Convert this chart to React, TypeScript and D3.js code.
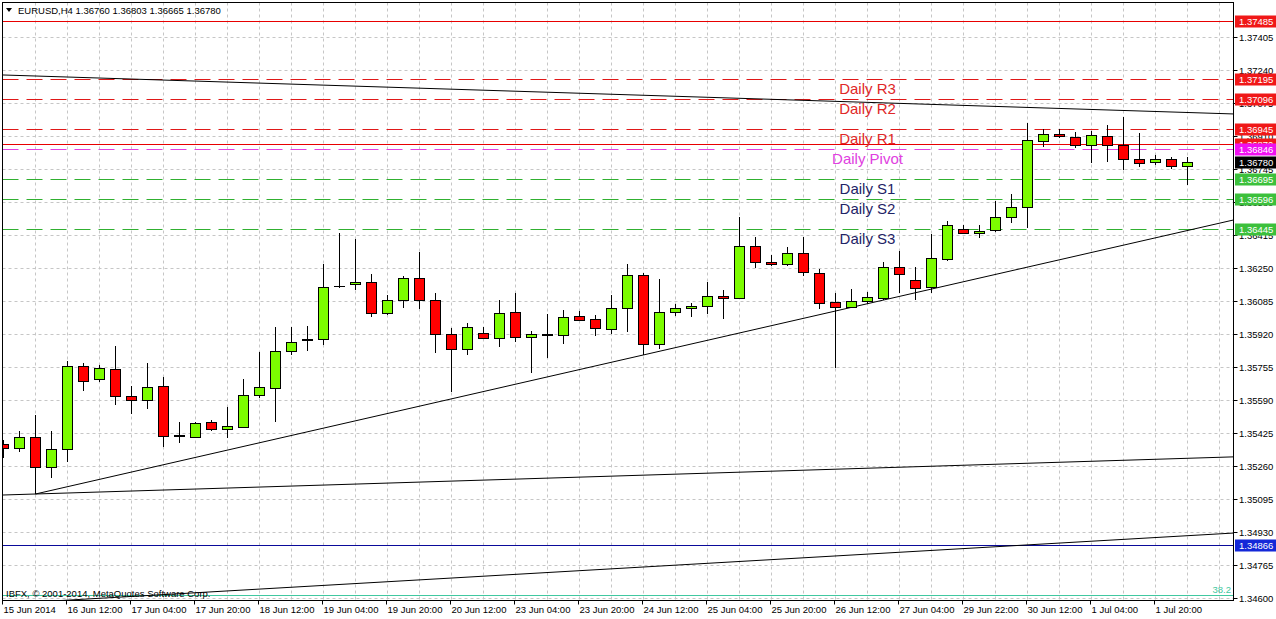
import React from "react";
import * as d3 from "d3";

const W = 1276;
const H = 619;

// H4 candles, bar 0 = 15 Jun 2014 (first bar on screen)
const opens = [
  1.3537, 1.3535, 1.35405, 1.35255, 1.35345, 1.3576, 1.35695, 1.35745, 1.3561, 1.3559,
  1.3566, 1.35415, 1.35405, 1.3548, 1.35445, 1.35455, 1.35615, 1.3565, 1.35835, 1.3589,
  1.35895, 1.3616, 1.3617, 1.3618, 1.36025, 1.3609, 1.362, 1.3609, 1.3592, 1.35845,
  1.35925, 1.359, 1.3603, 1.35905, 1.35915, 1.35915, 1.3601, 1.35995, 1.35945, 1.3605,
  1.36215, 1.3587, 1.3603, 1.3605, 1.3606, 1.3611, 1.361, 1.3636, 1.3628, 1.3627,
  1.36325, 1.36225, 1.3608, 1.36055, 1.36085, 1.361, 1.36255, 1.3619, 1.36155, 1.36295,
  1.36445, 1.36425, 1.3644, 1.36505, 1.36555, 1.36885, 1.3692, 1.36905, 1.36865, 1.3691,
  1.36865, 1.36795, 1.3678, 1.36795, 1.3676,
];
const highs = [
  1.3539, 1.35435, 1.35515, 1.35435, 1.35785, 1.35775, 1.35765, 1.3586, 1.3566, 1.35775,
  1.35705, 1.3548, 1.3548, 1.3549, 1.35555, 1.35695, 1.3583, 1.35955, 1.35955, 1.3596,
  1.3627, 1.36425, 1.36395, 1.3622, 1.36115, 1.3621, 1.3633, 1.36125, 1.3595, 1.35975,
  1.35955, 1.3609, 1.36125, 1.35935, 1.3602, 1.3604, 1.36035, 1.36015, 1.36115, 1.3627,
  1.36225, 1.36195, 1.3607, 1.36075, 1.3618, 1.3614, 1.36505, 1.36405, 1.36315, 1.36355,
  1.36405, 1.36245, 1.36125, 1.36145, 1.3613, 1.3628, 1.36335, 1.36255, 1.3642, 1.36485,
  1.36465, 1.36465, 1.36585, 1.3662, 1.36975, 1.36945, 1.36945, 1.3693, 1.36935, 1.36965,
  1.37005, 1.36925, 1.36815, 1.36805, 1.36803,
];
const lows = [
  1.353, 1.3533, 1.3512, 1.352, 1.3528, 1.35635, 1.3568, 1.35565, 1.3552, 1.35545,
  1.35355, 1.35375, 1.354, 1.35435, 1.354, 1.3545, 1.356, 1.3548, 1.35815, 1.35835,
  1.35865, 1.3615, 1.3614, 1.36005, 1.36015, 1.3605, 1.36045, 1.35825, 1.3563, 1.35815,
  1.35895, 1.35855, 1.3588, 1.35725, 1.358, 1.3587, 1.3599, 1.3591, 1.3592, 1.3593,
  1.35815, 1.35845, 1.3601, 1.36005, 1.3602, 1.35995, 1.361, 1.3625, 1.3626, 1.3626,
  1.3621, 1.36045, 1.3575, 1.36055, 1.3607, 1.3609, 1.36125, 1.3609, 1.36125, 1.36285,
  1.3642, 1.364, 1.3643, 1.36475, 1.3645, 1.36855, 1.369, 1.3685, 1.36775, 1.3678,
  1.3674, 1.36755, 1.36765, 1.36745, 1.36665,
];
const closes = [
  1.3535, 1.35405, 1.35255, 1.35345, 1.3576, 1.35685, 1.3575, 1.3561, 1.3559, 1.35655,
  1.3541, 1.3541, 1.35475, 1.35445, 1.3546, 1.35615, 1.35655, 1.35835, 1.3588, 1.35895,
  1.36155, 1.36158, 1.3618, 1.36025, 1.3609, 1.362, 1.3609, 1.3592, 1.35845, 1.35955,
  1.359, 1.36025, 1.35905, 1.3592, 1.35917, 1.36005, 1.3599, 1.3595, 1.3605, 1.36215,
  1.3587, 1.3603, 1.3605, 1.3606, 1.3611, 1.361, 1.3636, 1.3628, 1.3627, 1.36325,
  1.3623, 1.36075, 1.36055, 1.36085, 1.36105, 1.36255, 1.3622, 1.3615, 1.363, 1.36465,
  1.36425, 1.36435, 1.36505, 1.36555, 1.3689, 1.3692, 1.3691, 1.36865, 1.36915, 1.36865,
  1.36795, 1.36775, 1.36795, 1.3676, 1.3678,
];

const timeLabels = [
  "15 Jun 2014", "16 Jun 12:00", "17 Jun 04:00", "17 Jun 20:00", "18 Jun 12:00",
  "19 Jun 04:00", "19 Jun 20:00", "20 Jun 12:00", "23 Jun 04:00", "23 Jun 20:00",
  "24 Jun 12:00", "25 Jun 04:00", "25 Jun 20:00", "26 Jun 12:00", "27 Jun 04:00",
  "29 Jun 22:00", "30 Jun 12:00", "1 Jul 04:00", "1 Jul 20:00",
];
const timeLabelBars = [0, 4, 8, 12, 16, 20, 24, 28, 32, 36, 40, 44, 48, 52, 56, 60, 64, 68, 72];

const priceTickLabels = [
  "1.34600", "1.34765", "1.34930", "1.35095", "1.35260", "1.35425", "1.35590", "1.35755",
  "1.35920", "1.36085", "1.36250", "1.36415", "1.36580", "1.36745", "1.36910", "1.37075",
  "1.37240", "1.37405",
];

// Daily pivot levels
const pivotNames = ["Daily R3", "Daily R2", "Daily R1", "Daily Pivot", "Daily S1", "Daily S2", "Daily S3"];
const pivotPrices = [1.37195, 1.37096, 1.36945, 1.36846, 1.36695, 1.36596, 1.36445];
const pivotKinds = ["r", "r", "r", "p", "s", "s", "s"];

// Other horizontal lines
const hLinePrices = [1.37485, 1.3687, 1.34866];
const hLineKinds = ["red", "red", "blue"];

// Fibonacci level near the bottom
const fibPrice = 1.34615;
const fibLabel = "38.2";

// Trend lines: [barIndex, price] anchor pairs
const trendLines: { a: [number, number]; b: [number, number]; fromStart: boolean }[] = [
  { a: [0, 1.37215], b: [74, 1.370275], fromStart: false },
  { a: [2, 1.3512], b: [74, 1.364375], fromStart: true },
  { a: [2, 1.3512], b: [74, 1.352985], fromStart: false },
  { a: [25, 1.34686], b: [74, 1.349115], fromStart: false },
];

const header = "EURUSD,H4  1.36760 1.36803 1.36665 1.36780";
const copyright = "IBFX, \u00A9 2001-2014, MetaQuotes Software Corp.";
const lastPrice = 1.3678;

const COL = {
  bull: "#7CFC00",
  bear: "#FF0000",
  grid: "#C6C6C6",
  rLine: "#E01818",
  pLine: "#E040E0",
  sLine: "#30B030",
  rText: "#E02828",
  pText: "#E040E0",
  sText: "#1E2466",
  red: "#E80000",
  blue: "#0A0A9A",
  fib: "#40C8A0",
};

const FONT = "'Liberation Sans', Arial, sans-serif";

export default function App() {
  const x = d3.scaleLinear().domain([0, 74]).range([3, 3 + 16 * 74]);
  const y = d3.scaleLinear().domain([1.346, 1.376]).range([598, -2]);

  const L = 2.5;
  const R = 1233.5;
  const T = 2.5;
  const B = 600.5;

  const gridX: number[] = [];
  for (let i = 2; x(i) < R - 2; i += 2) gridX.push(x(i) + 0.5);

  const boxes: { price: number; text: string; bg: string }[] = [
    { price: hLinePrices[0], text: "1.37485", bg: "#F01818" },
    { price: pivotPrices[0], text: "1.37195", bg: "#F01818" },
    { price: pivotPrices[1], text: "1.37096", bg: "#F01818" },
    { price: pivotPrices[2], text: "1.36945", bg: "#F01818" },
    { price: hLinePrices[1], text: "1.36870", bg: "#F01818" },
    { price: pivotPrices[3], text: "1.36846", bg: "#F010F0" },
    { price: pivotPrices[4], text: "1.36695", bg: "#3CC03C" },
    { price: pivotPrices[5], text: "1.36596", bg: "#3CC03C" },
    { price: pivotPrices[6], text: "1.36445", bg: "#3CC03C" },
    { price: hLinePrices[2], text: "1.34866", bg: "#1428D8" },
    { price: lastPrice, text: "1.36780", bg: "#000000" },
  ];

  const trendPath = (t: { a: [number, number]; b: [number, number]; fromStart: boolean }) => {
    const slope = (t.b[1] - t.a[1]) / (t.b[0] - t.a[0]);
    const i0 = t.fromStart ? t.a[0] : -2;
    const i1 = 80;
    const p0 = t.a[1] + slope * (i0 - t.a[0]);
    const p1 = t.a[1] + slope * (i1 - t.a[0]);
    return d3.line()([
      [x(i0) + 0.5, y(p0)],
      [x(i1) + 0.5, y(p1)],
    ]) as string;
  };

  const py = (p: number) => Math.round(y(p)) + 0.5;

  return (
    <svg
      width={W}
      height={H}
      style={{ position: "absolute", left: 0, top: 0, display: "block" }}
      fontFamily={FONT}
    >
      <defs>
        <clipPath id="plotClip">
          <rect x={L} y={T} width={R - L} height={B - T} />
        </clipPath>
      </defs>
      <rect x={0} y={0} width={W} height={H} fill="#ffffff" />

      <g clipPath="url(#plotClip)">
        {/* grid */}
        {gridX.map((gx, i) => (
          <line key={"gx" + i} x1={gx} x2={gx} y1={T} y2={B} stroke={COL.grid} strokeDasharray="3,3" />
        ))}
        {priceTickLabels.map((t, i) => (
          <line key={"gy" + i} x1={L} x2={R} y1={py(+t)} y2={py(+t)} stroke={COL.grid} strokeDasharray="3,3" />
        ))}

        {/* horizontal levels */}
        {hLinePrices.map((p, i) => (
          <line
            key={"hl" + i}
            x1={L}
            x2={R}
            y1={py(p)}
            y2={py(p)}
            stroke={hLineKinds[i] === "blue" ? COL.blue : COL.red}
            strokeWidth={1}
          />
        ))}
        {pivotPrices.map((p, i) => (
          <line
            key={"pl" + i}
            x1={L}
            x2={R}
            y1={py(p)}
            y2={py(p)}
            stroke={pivotKinds[i] === "r" ? COL.rLine : pivotKinds[i] === "p" ? COL.pLine : COL.sLine}
            strokeDasharray="16,8"
          />
        ))}
        <line x1={L} x2={R} y1={py(fibPrice)} y2={py(fibPrice)} stroke={COL.fib} />

        {/* trend lines */}
        {trendLines.map((t, i) => (
          <path key={"tl" + i} d={trendPath(t)} stroke="#000" strokeWidth={1} fill="none" />
        ))}

        {/* candles */}
        {opens.map((o, i) => {
          const c = closes[i];
          const cx = x(i) + 0.5;
          const top = y(Math.max(o, c));
          const bot = y(Math.min(o, c));
          const fill = c > o ? COL.bull : c < o ? COL.bear : "#000";
          return (
            <g key={"c" + i}>
              <line x1={cx} x2={cx} y1={y(highs[i])} y2={y(lows[i])} stroke="#000" shapeRendering="crispEdges" />
              <rect
                x={cx - 5}
                y={top}
                width={10}
                height={Math.max(bot - top, 0.01)}
                fill={fill}
                stroke="#000"
                strokeWidth={1}
                shapeRendering="crispEdges"
              />
            </g>
          );
        })}

        {/* pivot texts */}
        {pivotPrices.map((p, i) => (
          <text
            key={"pt" + i}
            x={x(54) + 0.5}
            y={y(p) + 15}
            textAnchor="middle"
            fontSize={15}
            fill={pivotKinds[i] === "r" ? COL.rText : pivotKinds[i] === "p" ? COL.pText : COL.sText}
          >
            {pivotNames[i]}
          </text>
        ))}

        <text x={1231} y={593} textAnchor="end" fontSize={9.5} fill={COL.fib}>
          {fibLabel}
        </text>

        <text x={6} y={597} fontSize={9.5} fill="#000">
          {copyright}
        </text>

        {/* header */}
        <path d="M6,8 L12,8 L9,12 Z" fill="#000" />
        <text x={18} y={14} fontSize={9.5} fill="#000">
          {header}
        </text>
      </g>

      {/* frame */}
      <rect x={L} y={T} width={R - L} height={B - T} fill="none" stroke="#000" strokeWidth={1} />

      {/* right price axis */}
      {priceTickLabels.map((t, i) => {
        const ty = py(+t);
        return (
          <g key={"pa" + i}>
            <line x1={R} x2={R + 4} y1={ty} y2={ty} stroke="#000" />
            <text x={1239} y={ty + 3.5} fontSize={9.5} fill="#000">
              {t}
            </text>
          </g>
        );
      })}
      {boxes.map((b, i) => {
        const by = Math.round(y(b.price));
        return (
          <g key={"bx" + i}>
            <rect x={1235} y={by - 5.5} width={41} height={12} fill={b.bg} />
            <text x={1239} y={by + 4} fontSize={9.5} fill="#fff">
              {b.text}
            </text>
          </g>
        );
      })}

      {/* time axis */}
      {timeLabels.map((t, i) => {
        const tx = Math.round(x(timeLabelBars[i])) - 0.5;
        return (
          <g key={"ta" + i}>
            <line x1={tx} x2={tx} y1={B} y2={B + 4} stroke="#000" />
            <text x={tx + 1} y={613} fontSize={9.5} fill="#000">
              {t}
            </text>
          </g>
        );
      })}
    </svg>
  );
}
